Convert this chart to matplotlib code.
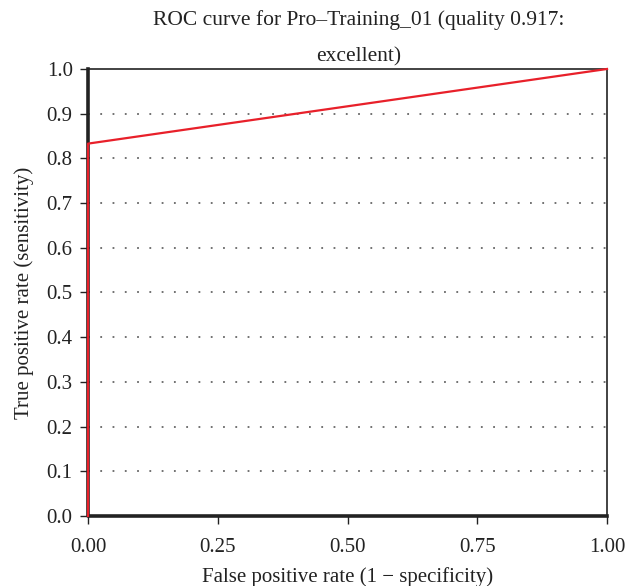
import matplotlib
matplotlib.use("Agg")
import matplotlib.pyplot as plt

plt.rcParams["font.family"] = ["Liberation Serif", "DejaVu Serif"]

# ROC points
fpr = [0.0, 0.0, 1.0]
tpr = [0.0, 0.833, 1.0]
# dark reference trace along the axes
ref_x = [0.0, 0.0, 1.0]
ref_y = [1.0, 0.0, 0.0]

x_ticks = [0.0, 0.25, 0.5, 0.75, 1.0]
y_ticks = [0.0, 0.1, 0.2, 0.3, 0.4, 0.5, 0.6, 0.7, 0.8, 0.9, 1.0]
grid_y = y_ticks[1:-1]

title_lines = ["ROC curve for Pro\u2013Training_01 (quality 0.917:", "excellent)"]

fig = plt.figure(figsize=(6.31, 5.86), dpi=100)
ax = fig.add_axes([0.1395, 0.1195, 0.8225, 0.7628])

for g in grid_y:
    ax.axhline(g, color="#666666", lw=1.3, dashes=(1, 5.8), zorder=1)

ax.plot(ref_x, ref_y, color="#222222", lw=2.6, zorder=2, clip_on=False)
ax.plot(fpr, tpr, color="#e8202a", lw=1.6, zorder=3, clip_on=False)

ax.set_xlim(0, 1)
ax.set_ylim(0, 1)
ax.set_xticks(x_ticks)
ax.set_xticklabels([f"{v:.2f}" for v in x_ticks])
ax.set_yticks(y_ticks)
ax.set_yticklabels([f"{v:.1f}" for v in y_ticks])
ax.tick_params(direction="out", length=6, width=1, labelsize=15, colors="#222222")
ax.tick_params(axis="x", pad=10)
ax.tick_params(axis="y", pad=5)

for s in ax.spines.values():
    s.set_color("#222222")
    s.set_linewidth(1.2)

ax.set_xlabel("False positive rate (1 \u2212 specificity)", fontsize=15, color="#222222", labelpad=7)
ax.set_ylabel("True positive rate (sensitivity)", fontsize=15, color="#222222", labelpad=9)

fig.text(0.568, 0.966, title_lines[0], ha="center", va="center", fontsize=15.5, color="#222222")
fig.text(0.568, 0.903, title_lines[1], ha="center", va="center", fontsize=15.5, color="#222222")

fig.savefig("out.png", dpi=100, facecolor="white")
